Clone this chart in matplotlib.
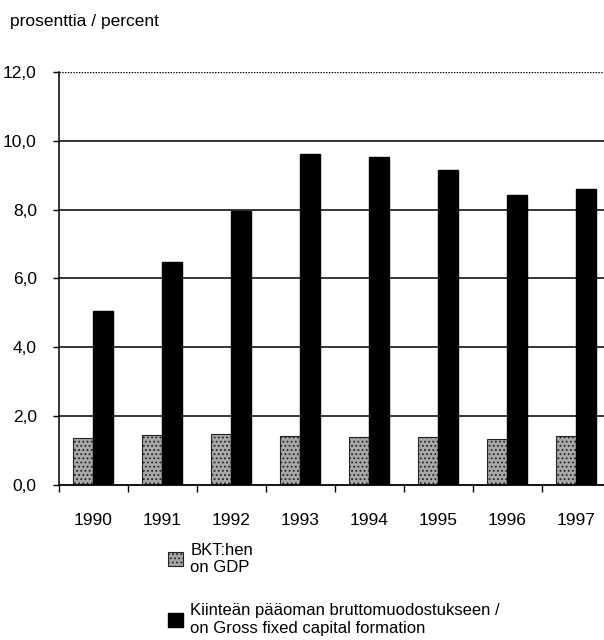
import numpy as np
import matplotlib.pyplot as plt
from matplotlib.ticker import FixedLocator

years = ["1990", "1991", "1992", "1993", "1994", "1995", "1996", "1997"]
gdp = [1.37, 1.45, 1.48, 1.42, 1.40, 1.40, 1.34, 1.42]
gfcf = [5.06, 6.48, 7.97, 9.62, 9.53, 9.16, 8.43, 8.60]
yticks = [0, 2, 4, 6, 8, 10, 12]
ytick_labels = ["0,0", "2,0", "4,0", "6,0", "8,0", "10,0", "12,0"]

plt.rcParams['font.family'] = ['Liberation Sans', 'DejaVu Sans']
plt.rcParams['hatch.color'] = '#555555'
plt.rcParams['hatch.linewidth'] = 0.8

fig = plt.figure(figsize=(6.04, 6.4), dpi=100)
ax = fig.add_axes([0.0977, 0.2422, 0.913, 0.6453])

x = np.arange(len(years))
w = 0.29
b1 = ax.bar(x - w / 2, gdp, w, color="#a8a8a8", edgecolor="#222222", linewidth=0.8,
            hatch="....", label="BKT:hen\non GDP")
b2 = ax.bar(x + w / 2, gfcf, w, color="black", edgecolor="black",
            label="Kiinteän pääoman bruttomuodostukseen /\non Gross fixed capital formation")

ax.set_xlim(-0.5, 7.5)
ax.set_ylim(0, 12)
for v in yticks[1:-1]:
    ax.axhline(v, color="black", lw=1.1, zorder=0)
ax.axhline(12, color="black", lw=1.0, ls=(0, (1, 1)), zorder=0)

ax.spines["top"].set_visible(False)
ax.spines["right"].set_visible(False)
ax.spines["left"].set_linewidth(1.1)
ax.spines["bottom"].set_linewidth(1.3)

ax.set_yticks(yticks)
ax.set_yticklabels(ytick_labels, fontsize=12.5)
ax.tick_params(axis="y", length=4, width=1, pad=12)

ax.set_xticks(x)
ax.set_xticklabels(years, fontsize=12.5)
ax.tick_params(axis="x", which="major", length=0, pad=20)
ax.xaxis.set_minor_locator(FixedLocator(np.arange(-0.5, 8, 1)))
ax.tick_params(axis="x", which="minor", length=5, width=1)

fig.text(0.017, 0.966, "prosenttia / percent", fontsize=12.5, va="center")

fig.legend(handles=[b1, b2], loc="upper left", bbox_to_anchor=(0.278, 0.152),
           frameon=False, fontsize=12, handlelength=0.9, handleheight=0.9,
           handletextpad=0.45, labelspacing=1.7, borderpad=0, borderaxespad=0)

fig.savefig("out.png", dpi=100)
